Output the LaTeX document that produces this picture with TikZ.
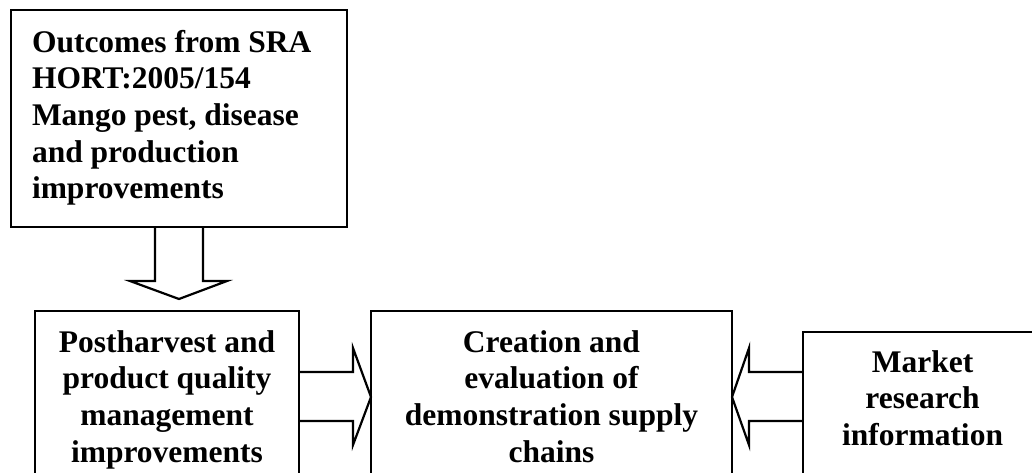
\documentclass[tikz,border=0pt]{standalone}
\usepackage{fontspec}
\setmainfont{Liberation Serif}
\begin{document}
\begin{tikzpicture}[x=1pt,y=-1pt,
  box/.style={draw, line width=2.2pt, rectangle, inner sep=0pt, outer sep=0pt, anchor=north west},
  txt/.style={inner sep=0pt, outer sep=0pt, anchor=base, font=\fontsize{31.5}{36.7}\selectfont\bfseries},
  blockarrow/.style={draw, line width=2.2pt, line join=miter}]
\useasboundingbox (0,0) rectangle (1032,472);
\clip (0,0) rectangle (1032,472);
% boxes
\node[box, minimum width=336pt, minimum height=217pt] (src) at (11,10) {};
\node[box, minimum width=264pt, minimum height=190pt] (post) at (35,311) {};
\node[box, minimum width=361pt, minimum height=190pt] (chain) at (371,311) {};
\node[box, minimum width=250pt, minimum height=170pt] (market) at (803,332) {};
% texts (base anchor = baseline of last line)
\node[txt, anchor=base west, align=left] (srct) at (32,198.8) {Outcomes from SRA\\HORT:2005/154\\Mango pest, disease\\and production\\improvements};
\node[txt, align=center] (postt) at (167,462.1) {Postharvest and\\product quality\\management\\improvements};
\node[txt, align=center] (chaint) at (551.5,462.1) {Creation and\\evaluation of\\demonstration supply\\chains};
\node[txt, align=center] (markett) at (922.5,445.4) {Market\\research\\information};
% block arrows
\draw[blockarrow] (155,227) -- (155,281) -- (130,281) -- (179,299) -- (227,281) -- (203,281) -- (203,227);
\draw[blockarrow] (299,372) -- (353,372) -- (353,348) -- (371,397) -- (353,445) -- (353,421) -- (299,421);
\draw[blockarrow] (803,372) -- (749,372) -- (749,348) -- (732,397) -- (749,445) -- (749,421) -- (803,421);
\end{tikzpicture}
\end{document}
